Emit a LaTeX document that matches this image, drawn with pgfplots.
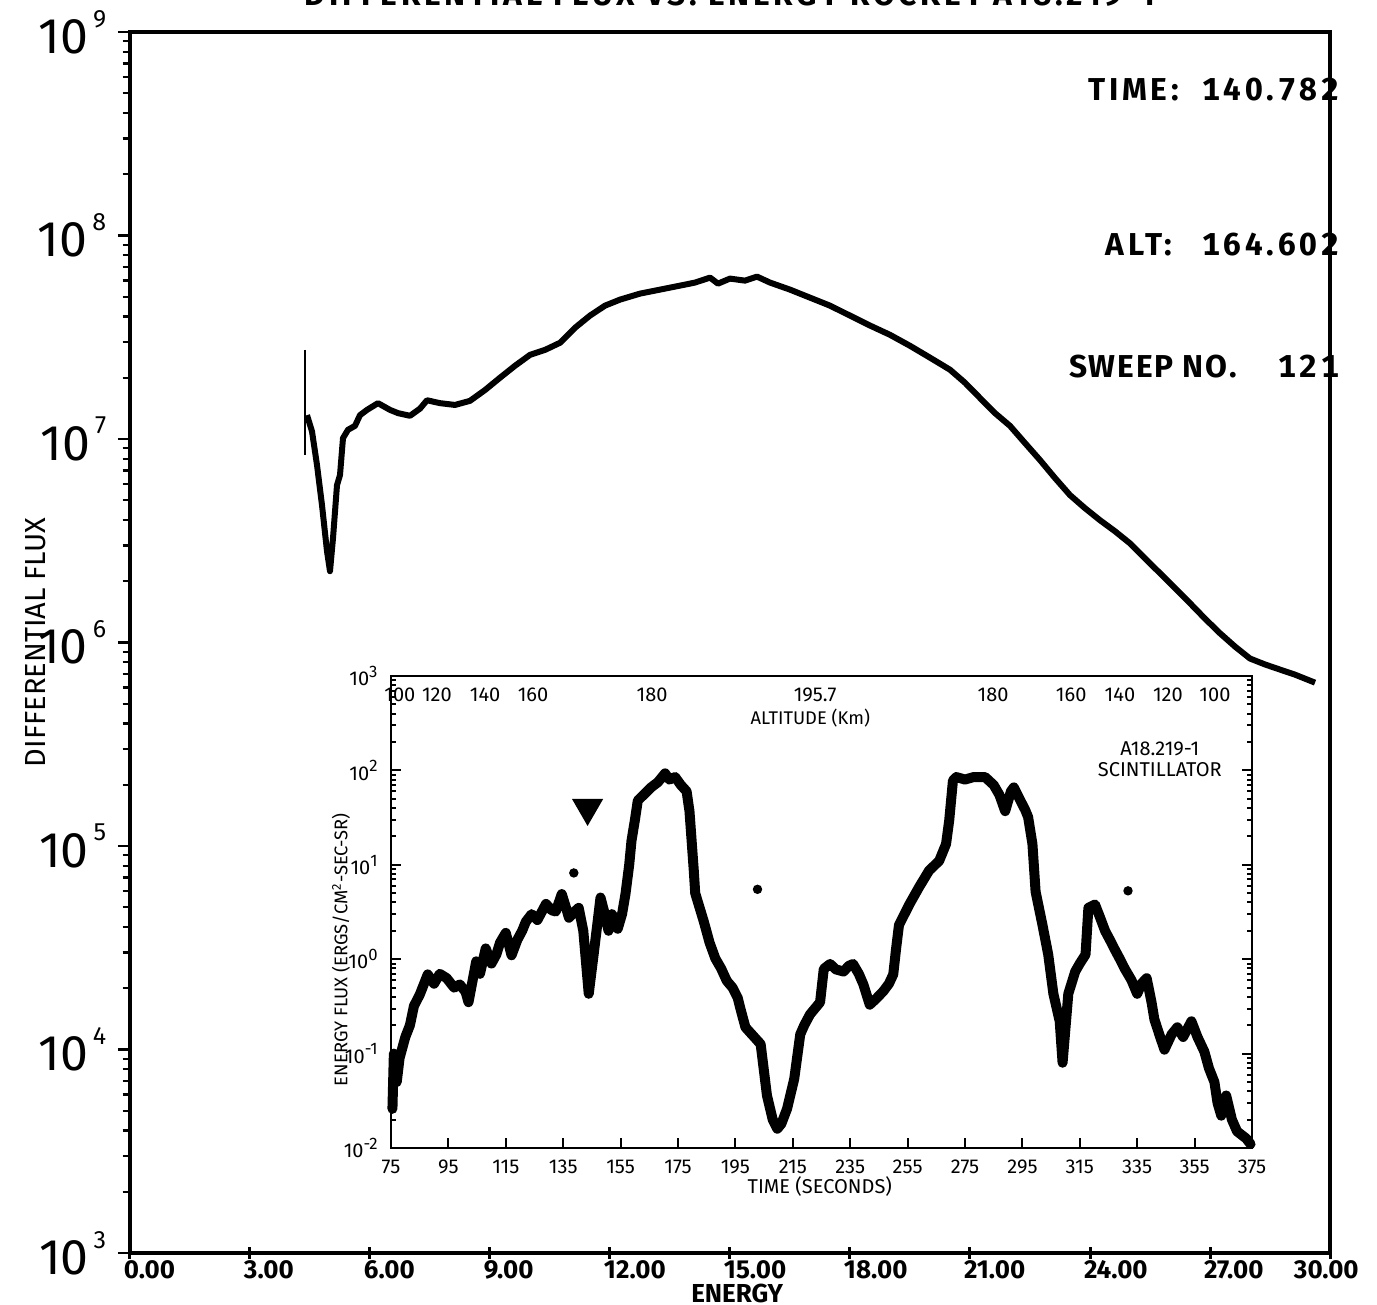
\documentclass[border=0pt]{standalone}
\usepackage{fontspec}
\setmainfont{Fira Sans}
\usepackage{pgfplots}
\pgfplotsset{compat=1.18}
\usetikzlibrary{calc}

\newcommand\tenpow[1]{10\kern1.5pt\raisebox{1.0ex}{\fontsize{7.5}{7.5}\selectfont #1}}
\newcommand\sidefont{\bfseries\fontsize{9.5}{10}\selectfont\addfontfeatures{LetterSpace=12,Numbers=Monospaced}}

\begin{document}
\begin{tikzpicture}
  % main plot: differential flux vs energy
  \begin{axis}[
    name=main,
    scale only axis,
    width=360pt, height=366.3pt,
    xmin=0, xmax=30,
    ymode=log, ymin=1e3, ymax=1e9,
    axis line style={line width=1.1pt},
    tick align=outside,
    major tick length=3.6pt, minor tick length=2.2pt,
    xtick={0,3,...,30},
    xticklabels={0.00,3.00,6.00,9.00,12.00,15.00,18.00,21.00,24.00,27.00,\hspace*{-9pt}30.00},
    xtick pos=bottom, ytick pos=left,
    x tick style={line width=0.9pt, black, yshift=1.8pt},
    y tick style={line width=0.7pt, black},
    ytick={1e3,1e4,1e5,1e6,1e7,1e8,1e9},
    yticklabels={\tenpow{3},\tenpow{4},\tenpow{5},\tenpow{6},\tenpow{7},\tenpow{8},\tenpow{9}},
    xticklabel style={anchor=north west, inner sep=0pt, xshift=-2pt, yshift=1.5pt,
      font=\bfseries\fontsize{7.8}{8}\selectfont},
    yticklabel style={font=\fontsize{15}{15}\selectfont},
    xlabel={ENERGY},
    xlabel style={at={(rel axis cs:0.506,-0.0328)}, anchor=center, font=\bfseries\fontsize{7.8}{8}\selectfont},
    ylabel={DIFFERENTIAL FLUX},
    ylabel style={at={(rel axis cs:-0.079,0.5)}, anchor=center, font=\fontsize{8.7}{9}\selectfont},
    clip=false,
  ]
    \addplot[line width=1.8pt, line join=round] coordinates {
      (4.425,1.31e7) (4.55,1.09e7) (4.675,7.45e6) (4.8,4.73e6) (4.925,2.81e6)
      (5.0,2.24e6) (5.075,3.25e6) (5.175,5.93e6) (5.25,6.65e6) (5.325,1.01e7)
      (5.45,1.11e7) (5.625,1.16e7) (5.75,1.31e7) (5.925,1.39e7) (6.2,1.50e7)
      (6.5,1.39e7) (6.7,1.34e7) (7.0,1.30e7) (7.25,1.41e7) (7.425,1.55e7)
      (7.75,1.50e7) (8.125,1.47e7) (8.5,1.54e7) (8.875,1.74e7) (9.25,2.0e7)
      (9.625,2.29e7) (10.0,2.59e7) (10.375,2.74e7) (10.75,2.97e7) (11.125,3.52e7)
      (11.5,4.04e7) (11.875,4.52e7) (12.25,4.84e7) (12.75,5.18e7) (13.25,5.42e7)
      (13.75,5.67e7) (14.125,5.87e7) (14.5,6.21e7) (14.7,5.80e7) (15.0,6.14e7)
      (15.375,6.0e7) (15.675,6.28e7) (16.0,5.87e7) (16.5,5.42e7) (17.0,4.95e7)
      (17.5,4.52e7) (18.0,4.04e7) (18.5,3.61e7) (19.0,3.25e7) (19.5,2.87e7)
      (20.0,2.51e7) (20.5,2.19e7) (20.875,1.89e7) (21.25,1.59e7) (21.625,1.34e7)
      (22.0,1.16e7) (22.375,9.55e6) (22.75,7.88e6) (23.125,6.43e6) (23.5,5.30e6)
      (23.875,4.57e6) (24.25,3.99e6) (24.625,3.52e6) (25.0,3.07e6) (25.375,2.59e6)
      (25.75,2.19e6) (26.125,1.85e6) (26.5,1.56e6) (26.875,1.31e6) (27.25,1.11e6)
      (27.625,9.55e5) (28.0,8.34e5) (28.375,7.8e5) (28.75,7.36e5) (29.125,6.95e5)
      (29.625,6.35e5)
    };
    \addplot[line width=0.6pt] coordinates {(4.375,2.74e7) (4.375,8.34e6)};

    \node[anchor=base west, inner sep=0pt, font=\sidefont] at (rel axis cs:0.798,0.944) {TIME:};
    \node[anchor=base east, inner sep=0pt, font=\sidefont] at (rel axis cs:1.008,0.944) {140.782};
    \node[anchor=base west, inner sep=0pt, font=\sidefont] at (rel axis cs:0.8125,0.817) {ALT:};
    \node[anchor=base east, inner sep=0pt, font=\sidefont] at (rel axis cs:1.008,0.817) {164.602};
    \node[anchor=base west, inner sep=0pt, font=\sidefont\addfontfeatures{LetterSpace=6}] at (rel axis cs:0.782,0.717) {SWEEP NO.};
    \node[anchor=base east, inner sep=0pt, font=\sidefont] at (rel axis cs:1.008,0.717) {121};
  \end{axis}

  \node[anchor=base, font=\bfseries\fontsize{9.5}{10}\selectfont\addfontfeatures{LetterSpace=12}] at ($(main.north)+(0,7.8pt)$)
    {DIFFERENTIAL FLUX VS. ENERGY ROCKET A18.219-1};

  % inset: scintillator energy flux vs time
  \begin{axis}[
    at={($(main.south west)+(78.3pt,31.5pt)$)}, anchor=south west,
    scale only axis,
    width=258.3pt, height=141.6pt,
    xmin=75, xmax=375,
    ymode=log, ymin=1e-2, ymax=1e3,
    axis background/.style={fill=white},
    axis line style={line width=0.8pt},
    tick align=inside,
    major tick length=3pt, minor tick length=1.6pt,
    tick style={black, line width=0.6pt},
    xtick={75,95,...,375},
    xtick pos=bottom,
    ytick pos=both, yticklabel pos=left,
    ytick={1e-2,1e-1,1,1e1,1e2,1e3},
    yticklabels={10\textsuperscript{-2},10\textsuperscript{-1},10\textsuperscript{0},10\textsuperscript{1},10\textsuperscript{2},10\textsuperscript{3}},
    /pgf/number format/assume math mode=true,
    ticklabel style={font=\fontsize{6}{6}\selectfont},
    xlabel={TIME (SECONDS)},
    xlabel style={at={(rel axis cs:0.498,-0.082)}, anchor=center, font=\fontsize{6}{6}\selectfont},
    ylabel={ENERGY FLUX (ERGS/CM\textsuperscript{2}-SEC-SR)},
    ylabel style={at={(rel axis cs:-0.058,0.42)}, anchor=center, font=\fontsize{5.5}{6}\selectfont},
    clip=false,
  ]
    \addplot[line width=3pt, line join=round, line cap=round] coordinates {
      (75.5,0.026) (76,0.1) (77,0.05) (78,0.09) (80,0.15) (81.6,0.2) (83,0.32)
      (85,0.42) (87.8,0.69) (90,0.55) (92,0.7) (94.4,0.63) (97,0.5) (99,0.54)
      (101,0.45) (102,0.35) (104.7,0.95) (106,0.7) (108,1.3) (110,0.9)
      (111.7,1.12) (113,1.5) (115,1.9) (117,1.1) (119,1.6) (120.7,2.0) (122,2.5)
      (124,3.0) (126,2.6) (129,3.85) (131,3.3) (132.4,3.2) (134.5,4.9) (136,3.5)
      (137,2.75) (139,3.2) (140.4,3.5) (142,2.0) (143.9,0.43) (145.6,1.12)
      (147,2.5) (148,4.5) (149.5,3.0) (150.8,2.0) (152,3.0) (154,2.1) (155.5,3.0)
      (156.7,4.9) (158,10) (158.8,18) (160,30) (161,48) (163,55) (165.6,66)
      (168,75) (170.5,93) (172,80) (174,85) (176,70) (178,60) (179,37)
      (180.5,8.7) (181,5) (184,2.5) (186,1.5) (188,1.02) (190,0.8) (192,0.59)
      (194,0.5) (195.8,0.39) (197,0.28) (198.5,0.19) (203.8,0.126) (206,0.036)
      (208,0.02) (209.6,0.016) (211,0.018) (213,0.026) (215.5,0.054)
      (217.6,0.16) (219,0.2) (221,0.26) (224.5,0.35) (225.8,0.79) (228,0.89)
      (230,0.78) (232.7,0.74) (234.5,0.85) (236,0.89) (238,0.7) (239.6,0.54)
      (241.8,0.33) (244,0.38) (246.6,0.46) (248.5,0.55) (250,0.69) (251,1.3)
      (252,2.3) (255.6,3.8) (259,5.8) (262.5,8.7) (266,11) (268.4,16.6)
      (269.5,29.5) (270.8,78) (272,85) (275,80) (278,85) (282,85) (285,70)
      (287,55) (289,37) (291,60) (292,66) (294,50) (296,38) (297,32)
      (298.5,16.6) (299.6,5.2) (302,2.3) (304,1.12) (305.8,0.43) (308,0.22)
      (309,0.08) (311,0.43) (313.4,0.74) (315,0.9) (317,1.12) (318,3.5)
      (320.3,3.8) (322,2.8) (323.8,2.0) (325.5,1.6) (327,1.3) (329,1.0)
      (330.7,0.79) (333,0.6) (335,0.43) (336.5,0.55) (338.3,0.63) (340,0.35)
      (341,0.23) (343,0.15) (344.5,0.11) (347,0.16) (349,0.19) (351,0.15)
      (353.9,0.22) (356,0.15) (358.4,0.105) (360,0.07) (361.9,0.05) (363,0.03)
      (364.3,0.022) (366,0.036) (368,0.02) (369.8,0.015) (373,0.0126)
      (374.5,0.011)
    };
    \addplot[only marks, mark=*, mark size=1.2pt] coordinates {(138.7,8.2) (202.7,5.5) (331.8,5.3)};
    \addplot[only marks, mark=triangle*, mark size=5pt, mark options={rotate=180}] coordinates {(143.5,40)};

    \node[font=\fontsize{5.5}{6}\selectfont] at (rel axis cs:0.487,0.911) {ALTITUDE (Km)};
    \node[font=\fontsize{6}{6.5}\selectfont, align=center] at (rel axis cs:0.893,0.824) {A18.219-1\\SCINTILLATOR};
  \end{axis}

  % inset top axis: altitude
  \begin{axis}[
    at={($(main.south west)+(78.3pt,31.5pt)$)}, anchor=south west,
    scale only axis,
    width=258.3pt, height=141.6pt,
    xmin=75, xmax=375, ymin=0, ymax=1,
    hide y axis,
    axis x line*=top,
    axis line style={line width=0.8pt, -},
    major tick length=0pt,
    xtick={78.1,91.0,107.8,124.5,166.0,222.8,284.8,312.0,329.0,345.7,362.1},
    xticklabels={100,120,140,160,180,195.7,180,160,140,120,100},
    xticklabel pos=upper,
    xticklabel style={anchor=north, yshift=0pt, font=\fontsize{6}{6}\selectfont},
  ]
  \end{axis}

  \pgfresetboundingbox
  \path[use as bounding box] ($(main.south west)+(-39pt,-15.6pt)$) rectangle ($(main.north east)+(14.1pt,9.6pt)$);
\end{tikzpicture}
\end{document}
